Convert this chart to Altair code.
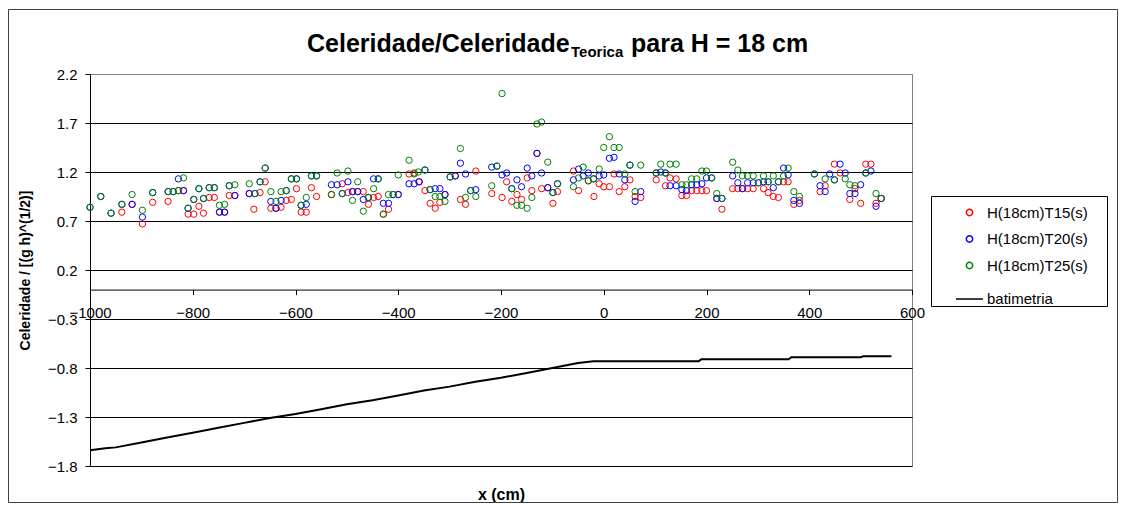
import altair as alt
import pandas as pd

# ---------------- data ----------------
series_names = ["H(18cm)T15(s)", "H(18cm)T20(s)", "H(18cm)T25(s)", "batimetria"]
series_colors = ["#FF0000", "#0000FF", "#008000", "#000000"]
series_shapes = ["circle", "circle", "circle", "stroke"]

t15 = [(-938,0.79),(-918,0.87),(-898,0.67),(-878,0.89),(-848,0.90),(-828,1.01),(-818,1.01),(-809,0.77),
       (-798,0.77),(-788,0.85),(-779,0.78),(-768,0.94),(-758,0.94),(-748,0.79),(-738,0.79),(-729,0.96),
       (-718,0.96),(-690,0.98),(-681,0.82),(-669,0.99),(-659,1.10),(-648,0.83),(-638,0.83),(-628,0.84),
       (-618,0.91),(-608,0.92),(-598,1.03),(-589,0.79),(-579,0.79),(-569,1.04),(-559,0.95),(-530,0.97),
       (-509,1.08),(-498,0.99),(-489,1.00),(-479,1.00),(-468,1.00),(-458,0.87),(-448,0.94),(-439,0.95),
       (-429,0.77),(-419,0.82),(-400,0.97),(-379,1.18),(-369,1.19),(-360,1.10),(-348,1.01),(-338,0.88),
       (-328,0.83),(-319,0.89),(-309,0.97),(-289,1.16),(-279,0.92),(-269,0.87),(-249,1.21),(-218,0.98),
       (-198,0.94),(-189,1.10),(-179,0.90),(-169,0.97),(-160,0.92),(-149,1.14),(-140,1.01),(-130,1.39),
       (-121,1.03),(-109,1.04),(-99,0.88),(-90,1.00),(-59,1.21),(-49,1.01),(-30,1.11),(-19,0.95),
       (-9,1.08),(0,1.05),(11,1.05),(20,1.18),(30,1.00),(41,1.05),(51,1.12),(61,0.95),(72,0.94),
       (102,1.12),(120,1.06),(129,1.14),(141,1.13),(152,0.96),(161,0.96),(171,1.01),(181,1.01),
       (191,1.01),(200,1.01),(220,0.93),(230,0.82),(251,1.03),(261,1.03),(270,1.03),(280,1.03),
       (291,1.03),(311,1.03),(320,0.99),(330,0.95),(340,0.94),(350,1.10),(359,1.10),(370,0.87),
       (381,0.91),(421,1.00),(431,1.06),(449,1.28),(460,1.19),(479,0.92),(489,1.03),(500,0.88),
       (510,1.28),(520,1.28),(530,0.88),(540,0.93)]

t20 = [(-1000,0.84),(-979,0.95),(-959,0.78),(-938,0.87),(-918,0.87),(-898,0.74),(-878,0.99),(-848,1.00),
       (-838,1.00),(-828,1.13),(-818,1.01),(-809,0.83),(-798,0.92),(-788,1.03),(-779,0.93),(-768,1.04),
       (-758,1.04),(-748,0.79),(-738,0.79),(-729,1.06),(-718,0.96),(-690,0.98),(-679,0.98),(-669,1.10),
       (-659,1.24),(-648,0.90),(-638,0.83),(-628,0.91),(-618,1.01),(-608,1.13),(-598,1.13),(-589,0.86),
       (-579,0.87),(-569,1.16),(-559,1.16),(-530,1.07),(-519,1.07),(-509,0.98),(-498,1.10),(-489,1.00),
       (-479,1.00),(-468,0.92),(-458,0.94),(-448,1.13),(-439,1.13),(-429,0.88),(-419,0.88),(-410,0.97),
       (-400,0.97),(-379,1.08),(-369,1.08),(-359,1.10),(-348,1.22),(-338,1.02),(-328,1.03),(-319,1.03),
       (-309,0.97),(-299,1.15),(-289,1.16),(-279,1.29),(-269,1.18),(-259,1.01),(-249,1.02),(-218,1.25),
       (-208,1.26),(-198,1.17),(-189,1.19),(-179,1.03),(-169,1.12),(-160,1.05),(-149,1.24),(-140,1.16),
       (-130,1.39),(-121,1.19),(-109,1.04),(-99,0.99),(-90,1.08),(-59,1.12),(-49,1.23),(-40,1.16),
       (-30,1.19),(-20,1.13),(-9,1.16),(0,1.17),(11,1.34),(20,1.35),(30,1.18),(41,1.12),(51,1.27),
       (61,0.90),(72,1.00),(102,1.19),(111,1.20),(120,1.19),(129,1.06),(141,1.06),(152,1.02),(161,1.01),
       (171,1.07),(181,1.07),(191,1.08),(200,1.14),(210,1.14),(220,0.93),(230,0.93),(251,1.16),(261,1.09),
       (270,1.03),(280,1.09),(291,1.09),(301,1.09),(311,1.10),(320,1.10),(330,1.04),(340,1.10),(350,1.24),
       (359,1.17),(370,0.91),(381,0.88),(410,1.18),(421,1.06),(431,1.00),(440,1.18),(449,1.12),(460,1.28),
       (470,1.19),(479,0.98),(489,0.98),(500,1.07),(510,1.19),(520,1.21),(530,0.85),(540,0.93)]

t25 = [(-1000,0.84),(-979,0.95),(-959,0.78),(-938,0.87),(-918,0.97),(-898,0.81),(-878,0.99),(-848,1.00),
       (-838,1.00),(-828,1.01),(-818,1.14),(-809,0.83),(-798,0.92),(-788,1.03),(-779,0.93),(-768,1.04),
       (-758,1.04),(-748,0.86),(-738,0.87),(-729,1.06),(-718,1.07),(-690,1.08),(-679,0.98),(-669,1.10),
       (-659,1.24),(-648,1.00),(-638,0.90),(-628,1.00),(-618,1.01),(-608,1.13),(-598,1.13),(-589,0.86),
       (-579,0.94),(-569,1.16),(-559,1.16),(-530,0.97),(-519,1.19),(-509,0.98),(-498,1.21),(-489,0.91),
       (-479,1.10),(-468,0.80),(-458,0.94),(-448,1.03),(-439,1.13),(-429,0.77),(-419,0.97),(-410,0.97),
       (-400,1.17),(-379,1.32),(-369,1.18),(-361,1.20),(-348,1.22),(-338,1.02),(-328,0.95),(-319,0.95),
       (-309,0.90),(-299,1.15),(-279,1.44),(-269,0.94),(-259,1.01),(-249,0.95),(-218,1.06),(-208,1.26),
       (-198,2.00),(-179,1.03),(-169,0.86),(-160,0.86),(-149,0.83),(-140,0.94),(-130,1.69),(-121,1.71),
       (-109,1.30),(-99,0.99),(-90,1.08),(-59,1.05),(-49,1.14),(-40,1.25),(-30,1.11),(-20,1.13),(-9,1.23),
       (0,1.45),(11,1.56),(20,1.45),(30,1.45),(41,1.18),(51,1.27),(61,1.00),(72,1.27),(102,1.19),
       (111,1.28),(120,1.19),(129,1.28),(141,1.28),(152,1.07),(161,1.07),(171,1.13),(181,1.13),(191,1.21),
       (200,1.21),(210,1.14),(220,0.98),(230,0.93),(251,1.30),(261,1.22),(270,1.16),(280,1.16),(291,1.16),
       (301,1.09),(311,1.16),(320,1.10),(330,1.16),(340,1.10),(350,1.16),(359,1.24),(370,1.00),(381,0.95),
       (410,1.18),(431,1.13),(449,1.12),(470,1.13),(479,1.07),(489,1.06),(510,1.19),(530,0.98),(540,0.93)]

batimetria = [(-1000,-1.64),(-970,-1.62),(-950,-1.61),(-900,-1.56),(-850,-1.51),(-800,-1.46),
              (-750,-1.41),(-700,-1.36),(-650,-1.31),(-600,-1.27),(-550,-1.22),(-500,-1.17),
              (-450,-1.13),(-400,-1.08),(-350,-1.03),(-300,-0.99),(-250,-0.94),(-200,-0.90),
              (-150,-0.85),(-100,-0.80),(-50,-0.75),(-20,-0.73),(0,-0.73),(50,-0.73),(100,-0.73),
              (185,-0.73),(190,-0.71),(360,-0.71),(365,-0.69),(500,-0.69),(505,-0.68),(560,-0.68)]

x_ticks = [-1000, -800, -600, -400, -200, 0, 200, 400, 600]
y_ticks = [-1.8, -1.3, -0.8, -0.3, 0.2, 0.7, 1.2, 1.7, 2.2]

title_main = "Celeridade/Celeridade"
title_sub = "Teorica"
title_rest = "para H = 18 cm"
x_title = "x (cm)"
y_title = "Celeridade / [(g h)^(1/2)]"

# ---------------- tables ----------------
rows = []
for name, pts in zip(series_names[:3], [t15, t20, t25]):
    for xv, vv in pts:
        rows.append({"x": xv, "v": vv, "serie": name})
pts_df = pd.DataFrame(rows)
bat_df = pd.DataFrame({"x": [p[0] for p in batimetria], "v": [p[1] for p in batimetria]})

FONT = "Liberation Sans"
W, H = 822, 392
Y0_OFFSET = -H * 1.8 / 4.0  # x axis drawn at y = 0

xs = alt.Scale(domain=[-1000, 600], nice=False, zero=False)
ys = alt.Scale(domain=[-1.8, 2.2], nice=False, zero=False)

x_axis = alt.Axis(values=x_ticks, format="d", offset=Y0_OFFSET, title=x_title,
                  titleY=205, titleBaseline="middle", titleFont=FONT, titleFontSize=16,
                  titleFontWeight="bold", titleColor="black",
                  labelFont=FONT, labelFontSize=15, labelColor="black", labelPadding=11,
                  labelFlush=False, labelOverlap=False, tickSize=5, tickColor="black",
                  domainColor="black", grid=False)
y_axis = alt.Axis(values=y_ticks, format=".1f", title=y_title, titleX=-58,
                  titleFont=FONT, titleFontSize=14, titleFontWeight="bold", titleColor="black",
                  labelFont=FONT, labelFontSize=15, labelColor="black", labelPadding=8,
                  labelFlush=False, labelOverlap=False, tickSize=5, tickColor="black",
                  domainColor="black", grid=True,
                  gridColor={"condition": {"test": "datum.value > 2.1", "value": "#808080"},
                             "value": "#000000"},
                  gridOpacity=1, gridWidth=1)

leg = alt.Legend(title=None)
points = alt.Chart(pts_df).mark_point(filled=False, strokeWidth=1, opacity=1).encode(
    x=alt.X("x:Q", scale=xs, axis=x_axis),
    y=alt.Y("v:Q", scale=ys, axis=y_axis),
    color=alt.Color("serie:N", scale=alt.Scale(domain=series_names, range=series_colors), legend=leg),
    shape=alt.Shape("serie:N", scale=alt.Scale(domain=series_names, range=series_shapes), legend=leg),
    size=alt.Size("serie:N", scale=alt.Scale(type="ordinal", domain=series_names,
                                             range=[40, 40, 40, 729]), legend=leg),
)

line = alt.Chart(bat_df).mark_line(color="black", strokeWidth=2).encode(
    x=alt.X("x:Q", scale=xs), y=alt.Y("v:Q", scale=ys)
)

one_row = pd.DataFrame({"k": [0]})
frame = alt.Chart(one_row).mark_rect(
    filled=False, stroke="#404040", strokeWidth=1
).encode(x=alt.value(-81.5), x2=alt.value(1027.5), y=alt.value(-64.5), y2=alt.value(428.5))

legend_box = alt.Chart(one_row).mark_rect(
    fill="white", stroke="black", strokeWidth=1
).encode(x=alt.value(841.5), x2=alt.value(1017.5), y=alt.value(122.5), y2=alt.value(232.5))

def ttext(txt, xpos, ypos, size):
    return alt.Chart(pd.DataFrame({"t": [txt]})).mark_text(
        align="left", baseline="alphabetic", font=FONT, fontSize=size,
        fontWeight="bold", color="black"
    ).encode(x=alt.value(xpos), y=alt.value(ypos), text="t:N")

t1 = ttext(title_main, 217, -22, 25)
t2 = ttext(title_sub, 481, -17, 15)
t3 = ttext(title_rest, 541, -22, 25)

chart = alt.layer(frame, legend_box, points, line, t1, t2, t3).properties(
    width=W, height=H,
    padding={"left": 82, "top": 66, "right": 206, "bottom": 37},
    autosize=alt.AutoSizeParams(type="none"),
    background="white",
).configure_view(stroke="#808080", strokeWidth=1).configure_legend(
    orient="none", legendX=841, legendY=124,
    padding=7, labelFont=FONT, labelFontSize=15, labelColor="black", labelOffset=3,
    symbolStrokeWidth=1.5, rowPadding=10.5, symbolOffset=17,
)

chart.save("out.html", embed_options={"renderer": "svg", "actions": False})
